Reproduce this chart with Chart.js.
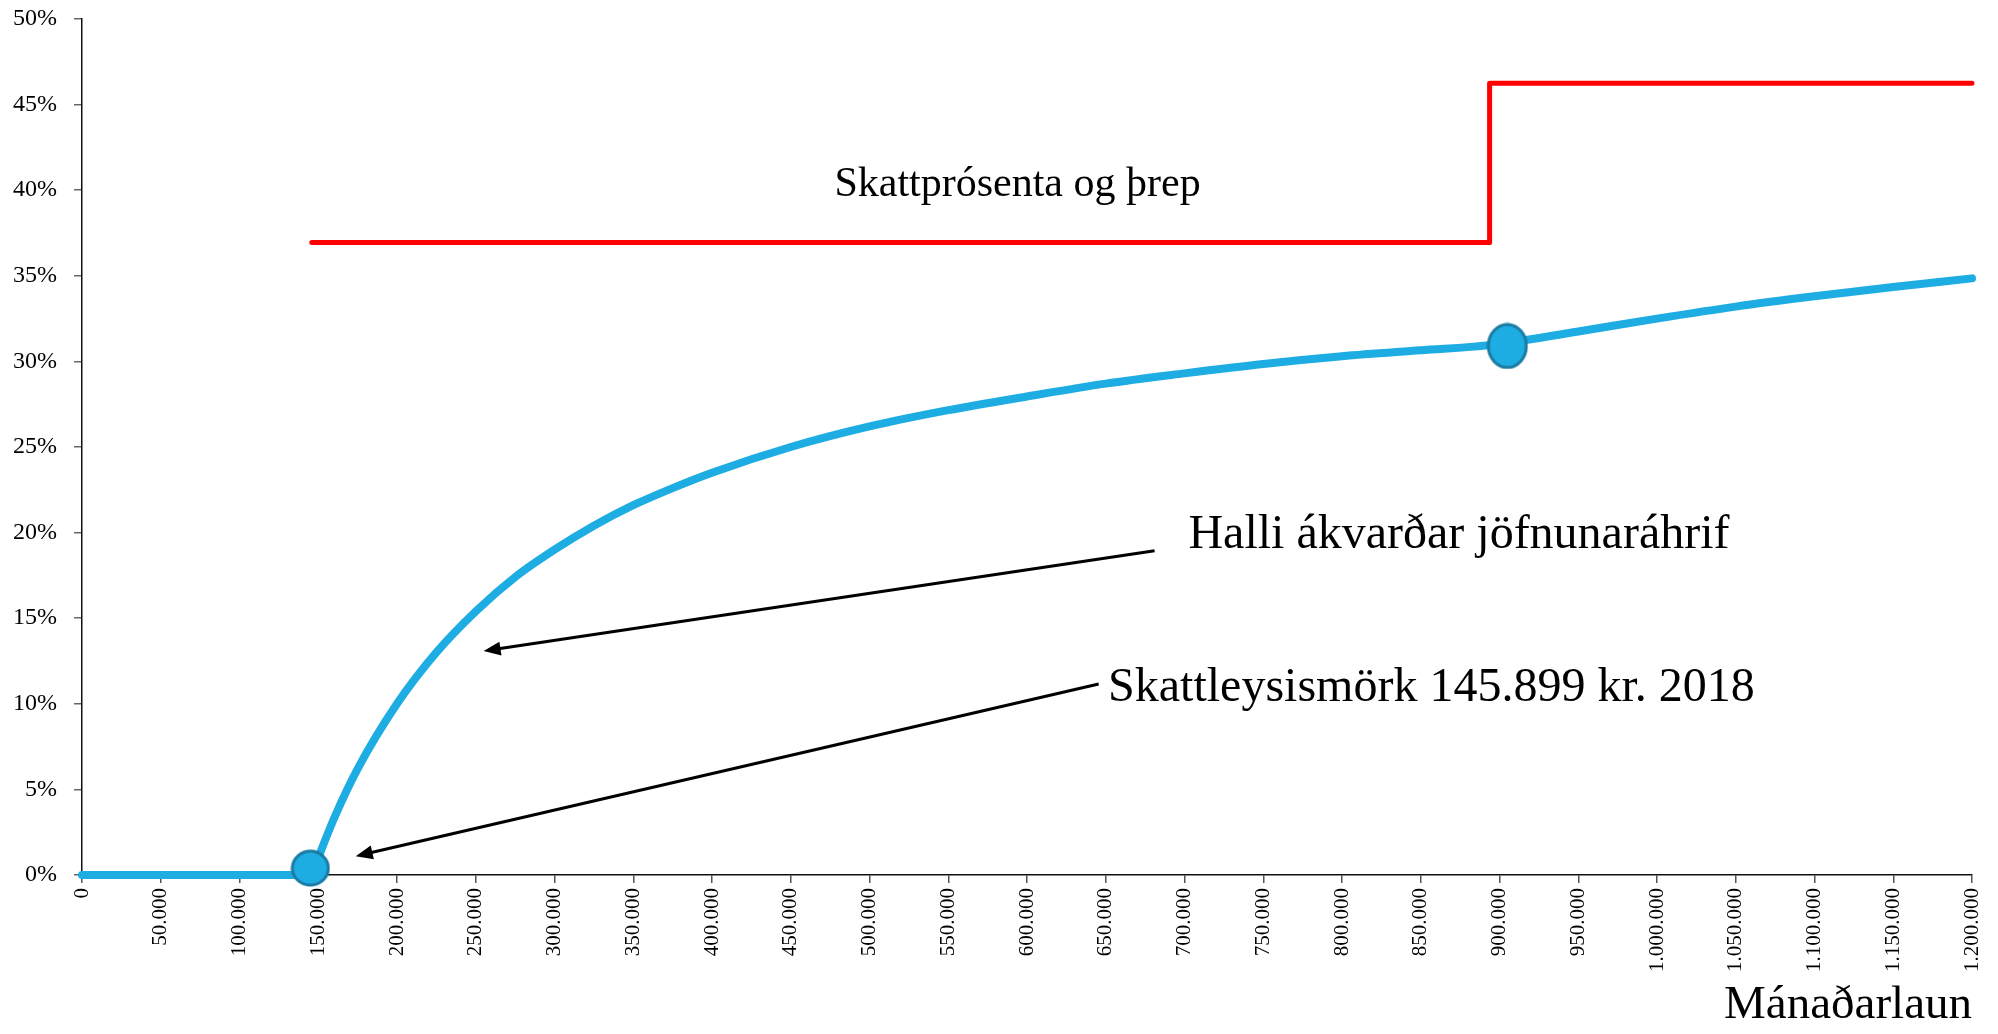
<!DOCTYPE html>
<html>
<head>
<meta charset="utf-8">
<title>Skattprósenta og þrep</title>
<script src="https://cdn.jsdelivr.net/npm/chart.js@4.4.1/dist/chart.umd.min.js"></script>
<style>
  html, body { margin: 0; padding: 0; background: #fff; }
  #wrap { width: 1998px; height: 1034px; }
</style>
</head>
<body>
<div id="wrap"><canvas id="taxChart"></canvas></div>
<script>
// Mánaðarlaun (kr.) og meðalskattur (%), lesið af myndinni
const flatX = [0, 145899];
const flatY = [0, 0];

const curveX = [145899, 150000, 160000, 175000, 200000, 225000, 250000, 275000, 300000,
  325000, 350000, 375000, 400000, 450000, 500000, 550000, 600000, 650000, 700000, 750000,
  800000, 850000, 893713, 950000, 1000000, 1050000, 1100000, 1150000, 1200000];
const curveY = [0, 1.0, 3.3, 6.2, 10.0, 13.0, 15.4, 17.4, 19.0,
  20.4, 21.6, 22.6, 23.5, 25.0, 26.2, 27.15, 27.95, 28.7, 29.3, 29.85,
  30.3, 30.65, 30.95, 31.75, 32.5, 33.2, 33.8, 34.35, 34.85];

// skattprósenta og þrep
const stepX = [145899, 893713, 1200000];
const stepY = [36.94, 46.24, 46.24];

// punktar á ferlinum
const markerX = [145000, 905000];
const markerY = [0.4, 30.9];

// ásar
const xMax = 1200000;
const xStep = 50000;
const yMax = 50;
const yStep = 5;

const BLUE = '#1EADE3';
const SERIF = "'Liberation Serif', 'Times New Roman', serif";

function toPoints(xs, ys) {
  return xs.map((x, i) => ({ x: x, y: ys[i] }));
}

function ellipseMarker(w, h) {
  const c = document.createElement('canvas');
  c.width = w + 4;
  c.height = h + 4;
  const g = c.getContext('2d');
  g.beginPath();
  g.ellipse(c.width / 2, c.height / 2, w / 2, h / 2, 0, 0, Math.PI * 2);
  g.fillStyle = BLUE;
  g.fill();
  g.lineWidth = 3;
  g.strokeStyle = '#1A7BA3';
  g.stroke();
  return c;
}

function thousands(v) {
  return String(v).replace(/\B(?=(\d{3})+(?!\d))/g, '.');
}

// texti og örvar (í gildum ásanna)
const notes = [
  { text: 'Skattprósenta og þrep', x: 477700, y: 39.66, size: 42 },
  { text: 'Halli ákvarðar jöfnunaráhrif', x: 702500, y: 19.1, size: 48 },
  { text: 'Skattleysismörk 145.899 kr. 2018', x: 651500, y: 10.18, size: 48 }
];
const arrows = [
  { from: [681000, 18.94], to: [255000, 13.08] },
  { from: [645500, 11.16], to: [173800, 1.1] }
];

const annotationPlugin = {
  id: 'notes',
  afterDatasetsDraw(chart) {
    const { ctx, scales } = chart;
    const xs = scales.x, ys = scales.y;
    ctx.save();
    ctx.fillStyle = '#000';
    ctx.textAlign = 'left';
    ctx.textBaseline = 'alphabetic';
    notes.forEach((n) => {
      ctx.font = n.size + 'px ' + SERIF;
      ctx.fillText(n.text, xs.getPixelForValue(n.x), ys.getPixelForValue(n.y));
    });
    ctx.strokeStyle = '#000';
    ctx.lineWidth = 3;
    arrows.forEach((a) => {
      const x1 = xs.getPixelForValue(a.from[0]), y1 = ys.getPixelForValue(a.from[1]);
      const x2 = xs.getPixelForValue(a.to[0]), y2 = ys.getPixelForValue(a.to[1]);
      const ang = Math.atan2(y2 - y1, x2 - x1);
      const headLen = 17, headHalf = 7;
      const bx = x2 - headLen * Math.cos(ang), by = y2 - headLen * Math.sin(ang);
      ctx.beginPath();
      ctx.moveTo(x1, y1);
      ctx.lineTo(bx + 2 * Math.cos(ang), by + 2 * Math.sin(ang));
      ctx.stroke();
      ctx.beginPath();
      ctx.moveTo(x2, y2);
      ctx.lineTo(bx + headHalf * Math.sin(ang), by - headHalf * Math.cos(ang));
      ctx.lineTo(bx - headHalf * Math.sin(ang), by + headHalf * Math.cos(ang));
      ctx.closePath();
      ctx.fill();
    });
    ctx.restore();
  }
};

document.addEventListener('DOMContentLoaded', function () {
  Chart.defaults.font.family = SERIF;
  Chart.defaults.color = '#000';

  const ctx = document.getElementById('taxChart').getContext('2d');
  new Chart(ctx, {
    type: 'line',
    data: {
      datasets: [
        {
          label: 'Punktar',
          data: toPoints(markerX, markerY),
          showLine: false,
          pointStyle: [ellipseMarker(36, 34), ellipseMarker(38, 43)],
          pointRadius: 18,
          clip: false,
          order: 0
        },
        {
          label: 'Meðalskattur',
          data: toPoints(flatX, flatY),
          borderColor: BLUE,
          borderWidth: 8,
          borderCapStyle: 'round',
          pointRadius: 0,
          clip: false,
          order: 1
        },
        {
          label: 'Meðalskattur',
          data: toPoints(curveX, curveY),
          borderColor: BLUE,
          borderWidth: 8,
          borderCapStyle: 'round',
          borderJoinStyle: 'round',
          cubicInterpolationMode: 'monotone',
          pointRadius: 0,
          clip: false,
          order: 1
        },
        {
          label: 'Skattprósenta og þrep',
          data: toPoints(stepX, stepY),
          borderColor: '#FF0000',
          borderWidth: 5,
          stepped: 'before',
          borderCapStyle: 'round',
          borderJoinStyle: 'round',
          pointRadius: 0,
          clip: false,
          order: 2
        }
      ]
    },
    options: {
      responsive: true,
      maintainAspectRatio: false,
      animation: false,
      layout: { padding: { top: 19, right: 26, left: 0, bottom: 0 } },
      plugins: {
        legend: { display: false },
        tooltip: { enabled: false }
      },
      scales: {
        x: {
          type: 'linear',
          min: 0,
          max: xMax,
          afterFit: (scale) => {
            scale.height = 159;
            scale.paddingLeft = 0;
            scale.paddingRight = 0;
          },
          ticks: {
            stepSize: xStep,
            autoSkip: false,
            maxRotation: 90,
            minRotation: 90,
            padding: 5,
            font: { size: 21 },
            callback: (v) => thousands(v)
          },
          grid: { drawOnChartArea: false, tickLength: 8, color: '#555', lineWidth: 1.5 },
          border: { color: '#111', width: 1.5 },
          title: {
            display: true,
            text: 'Mánaðarlaun',
            align: 'end',
            font: { size: 47 },
            padding: { top: 0, bottom: 0 }
          }
        },
        y: {
          min: 0,
          max: yMax,
          afterFit: (scale) => {
            scale.width = 82;
            scale.paddingTop = 0;
            scale.paddingBottom = 0;
          },
          ticks: {
            stepSize: yStep,
            padding: 17,
            font: { size: 24 },
            callback: (v) => v + '%'
          },
          grid: { drawOnChartArea: false, tickLength: 8, color: '#666', lineWidth: 1.5 },
          border: { color: '#111', width: 1.5 }
        }
      }
    },
    plugins: [annotationPlugin]
  });
});
</script>
</body>
</html>
